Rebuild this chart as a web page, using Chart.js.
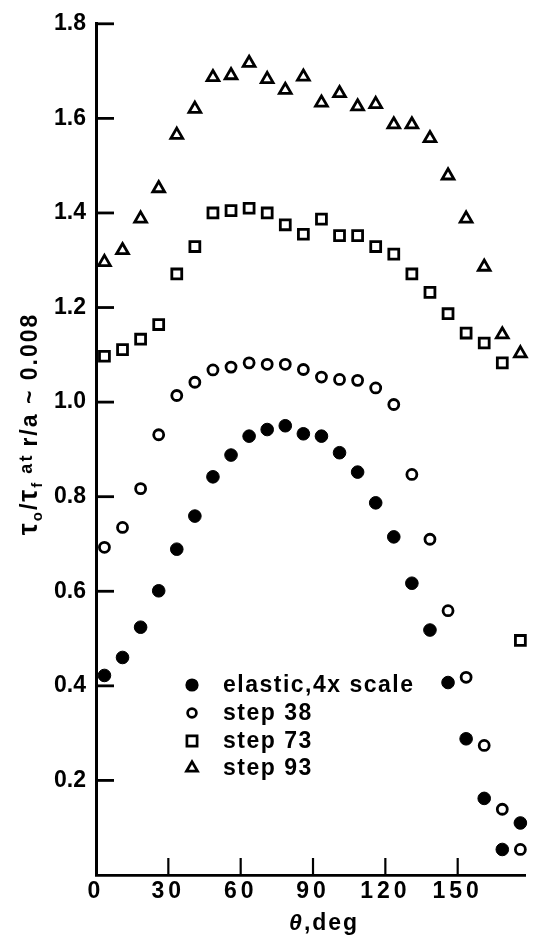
<!DOCTYPE html>
<html>
<head>
<meta charset="utf-8">
<script src="https://cdn.jsdelivr.net/npm/chart.js"></script>
<style>
    html, body { margin: 0; padding: 0; background: #fff; }
    div.ChartStress { width: 535px; height: 939px; }
</style>
</head>
<body>
<div class="ChartStress"><canvas id="ChartStress"></canvas></div>
<script>
// angle theta (deg) of each measuring point
var angles = [3.5, 11.0, 18.5, 26.0, 33.5, 41.0, 48.5, 56.0, 63.5, 71.0, 78.5, 86.0,
              93.5, 101.0, 108.5, 116.0, 123.5, 131.0, 138.5, 146.0, 153.5, 161.0, 168.5, 176.0];

var elastic = [0.422, 0.460, 0.524, 0.601, 0.689, 0.759, 0.842, 0.888, 0.928, 0.942, 0.950, 0.933,
               0.928, 0.893, 0.852, 0.787, 0.715, 0.617, 0.518, 0.407, 0.288, 0.162, 0.054, 0.110];
var step38 = [0.693, 0.735, 0.817, 0.931, 1.014, 1.042, 1.068, 1.074, 1.083, 1.080, 1.080, 1.069,
              1.053, 1.048, 1.046, 1.030, 0.995, 0.847, 0.710, 0.559, 0.418, 0.274, 0.139, 0.054];
var step73 = [1.097, 1.111, 1.133, 1.164, 1.271, 1.329, 1.400, 1.405, 1.410, 1.400, 1.375, 1.355,
              1.387, 1.352, 1.352, 1.329, 1.313, 1.271, 1.232, 1.187, 1.146, 1.125, 1.083, 0.496];
var step93 = [1.296, 1.321, 1.388, 1.452, 1.565, 1.620, 1.687, 1.691, 1.717, 1.683, 1.660, 1.688,
              1.633, 1.653, 1.625, 1.630, 1.587, 1.587, 1.558, 1.479, 1.388, 1.286, 1.143, 1.103];

var xTicks = [0, 30, 60, 90, 120, 150];
var yTicks = [0.2, 0.4, 0.6, 0.8, 1.0, 1.2, 1.4, 1.6, 1.8];
var seriesLabels = ['elastic,4x scale', 'step 38', 'step 73', 'step 93'];

var FONT = '"Liberation Sans"';

function ToPoints(values) {
    var points = [];
    var index = 0;
    while (index < values.length) {
        points.push({ x: angles[index], y: values[index] });
        index++;
    }
    return points;
}

function TickObjects(list) {
    var ticks = [];
    var index = 0;
    while (index < list.length) {
        ticks.push({ value: list[index] });
        index++;
    }
    return ticks;
}

function DrawMarker(ctx, style, x, y, r, filled) {
    ctx.beginPath();
    if (style === 'circle') {
        ctx.arc(x, y, r, 0, Math.PI * 2);
    } else if (style === 'rect') {
        var s = Math.SQRT1_2 * r;
        ctx.rect(x - s, y - s, 2 * s, 2 * s);
    } else {
        ctx.moveTo(x, y - r);
        ctx.lineTo(x + 0.866 * r, y + 0.5 * r);
        ctx.lineTo(x - 0.866 * r, y + 0.5 * r);
        ctx.closePath();
    }
    if (filled) {
        ctx.fill();
    } else {
        ctx.stroke();
    }
}

// pieces of text: [text, font size, baseline shift, style]
function DrawPieces(ctx, pieces, x, y) {
    var index = 0;
    while (index < pieces.length) {
        var p = pieces[index];
        ctx.font = (p[3] || '') + 'bold ' + p[1] + 'px ' + FONT;
        ctx.fillText(p[0], x, y + p[2]);
        x += ctx.measureText(p[0]).width;
        index++;
    }
    return x;
}

function PiecesWidth(ctx, pieces) {
    var w = 0;
    var index = 0;
    while (index < pieces.length) {
        var p = pieces[index];
        ctx.font = (p[3] || '') + 'bold ' + p[1] + 'px ' + FONT;
        w += ctx.measureText(p[0]).width;
        index++;
    }
    return w;
}

var axisDecor = {
    id: 'axisDecor',
    beforeDraw: function (chart) {
        chart.ctx.letterSpacing = '0px';
    },
    afterDatasetsDraw: function (chart) {
        // x tick labels are drawn after the datasets (z: 1), spaced out like the original
        chart.ctx.letterSpacing = '4px';
    },
    afterDraw: function (chart) {
        var ctx = chart.ctx;
        var xs = chart.scales.x;
        var ys = chart.scales.y;
        var area = chart.chartArea;

        ctx.save();
        ctx.strokeStyle = '#000';
        ctx.fillStyle = '#000';

        // inward tick marks
        ctx.lineWidth = 2.8;
        yTicks.forEach(function (v) {
            var py = ys.getPixelForValue(v);
            ctx.beginPath();
            ctx.moveTo(area.left, py);
            ctx.lineTo(area.left + 18, py);
            ctx.stroke();
        });
        ctx.lineWidth = 2.2;
        xTicks.forEach(function (v) {
            if (v === 0) return;
            var px = xs.getPixelForValue(v);
            ctx.beginPath();
            ctx.moveTo(px, area.bottom);
            ctx.lineTo(px, area.bottom - 17);
            ctx.stroke();
        });

        ctx.letterSpacing = '2px';
        ctx.textBaseline = 'alphabetic';
        ctx.textAlign = 'left';

        // x axis title
        var xt = [['\u03b8', 23, 0, 'italic '], [',deg', 23, 0]];
        var xw = PiecesWidth(ctx, xt);
        DrawPieces(ctx, xt, xs.getPixelForValue(94.6) - xw / 2, 930);

        // y axis title, rotated
        var yt = [['\u03c4', 27, 0], ['o', 15, 5], ['/', 23, 0], ['\u03c4', 27, 0], ['f', 15, 5],
                  [' at ', 18, -5], ['r/a ~ 0.008', 23, 0]];
        var yw = PiecesWidth(ctx, yt);
        ctx.save();
        ctx.translate(37, 424 + yw / 2);
        ctx.rotate(-Math.PI / 2);
        DrawPieces(ctx, yt, 0, 0);
        ctx.restore();

        // legend
        var rows = [685, 713, 741, 768];
        var sizes = [6.6, 4.4, 7.2, 6.4];
        ctx.letterSpacing = '1.5px';
        chart.data.datasets.forEach(function (ds, i) {
            ctx.lineWidth = 2.7;
            DrawMarker(ctx, ds.pointStyle, 192, rows[i], sizes[i], i === 0);
            ctx.font = 'bold 23px ' + FONT;
            ctx.fillText(ds.label, 223, rows[i] + 7);
        });
        ctx.restore();
        ctx.letterSpacing = '0px';
    }
};

var ctx = document.getElementById('ChartStress').getContext('2d');

var graph = new Chart(ctx, {
    type: 'scatter',
    data: {
        datasets: [
            {
                label: seriesLabels[0],
                data: ToPoints(elastic),
                pointStyle: 'circle',
                pointRadius: 6.3,
                pointBorderWidth: 1,
                pointBackgroundColor: '#000',
                pointBorderColor: '#000'
            },
            {
                label: seriesLabels[1],
                data: ToPoints(step38),
                pointStyle: 'circle',
                pointRadius: 5,
                pointBorderWidth: 2.8,
                pointBackgroundColor: '#fff',
                pointBorderColor: '#000'
            },
            {
                label: seriesLabels[2],
                data: ToPoints(step73),
                pointStyle: 'rect',
                pointRadius: 7,
                pointBorderWidth: 2.8,
                pointBackgroundColor: '#fff',
                pointBorderColor: '#000'
            },
            {
                label: seriesLabels[3],
                data: ToPoints(step93),
                pointStyle: 'triangle',
                pointRadius: 6.8,
                pointBorderWidth: 2.8,
                pointBackgroundColor: '#fff',
                pointBorderColor: '#000'
            }
        ]
    },
    options: {
        responsive: true,
        maintainAspectRatio: false,
        animation: false,
        clip: false,
        layout: { padding: { top: 21, right: 0, left: 0, bottom: 0 } },
        plugins: {
            legend: { display: false },
            title: { display: false },
            tooltip: { enabled: false }
        },
        scales: {
            x: {
                type: 'linear',
                min: 0,
                max: 178,
                afterBuildTicks: function (scale) { scale.ticks = TickObjects(xTicks); },
                afterFit: function (scale) { scale.height = 64; },
                grid: { display: true, drawOnChartArea: false, drawTicks: false, color: 'rgba(0,0,0,0)' },
                border: { display: true, color: '#000', width: 2.8 },
                ticks: {
                    z: 1,
                    color: '#000',
                    padding: 3,
                    maxRotation: 0,
                    autoSkip: false,
                    font: { family: 'Liberation Sans', size: 23, weight: 'bold' }
                }
            },
            y: {
                type: 'linear',
                min: 0,
                max: 1.8,
                afterBuildTicks: function (scale) { scale.ticks = TickObjects(yTicks); },
                afterFit: function (scale) { scale.width = 96; },
                grid: { display: true, drawOnChartArea: false, drawTicks: false, color: 'rgba(0,0,0,0)' },
                border: { display: true, color: '#000', width: 3 },
                ticks: {
                    color: '#000',
                    padding: 10,
                    autoSkip: false,
                    font: { family: 'Liberation Sans', size: 23, weight: 'bold' },
                    callback: function (value) { return value.toFixed(1); }
                }
            }
        }
    },
    plugins: [axisDecor]
});
</script>
</body>
</html>
